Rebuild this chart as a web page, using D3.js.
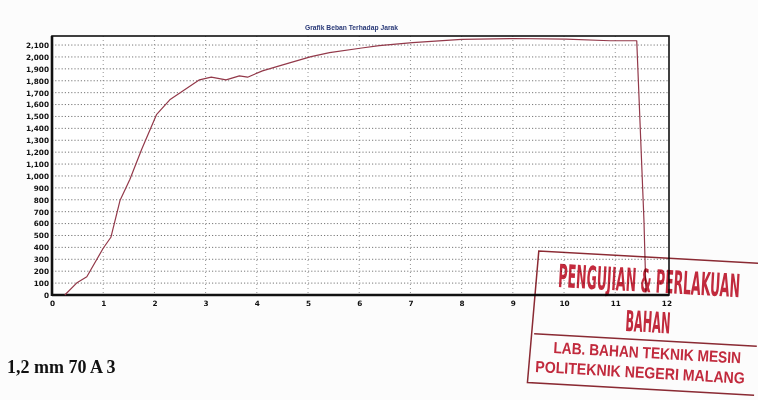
<!DOCTYPE html>
<html>
<head>
<meta charset="utf-8">
<script src="https://cdn.jsdelivr.net/npm/d3@7/dist/d3.min.js"></script>
<style>
  html, body { margin: 0; padding: 0; background: #fcfcfc; }
  svg { display: block; }
</style>
</head>
<body>
<svg id="chart" width="758" height="400"></svg>
<script>
// Load (kgf) against displacement (mm) from the tensile test
const distance = [0.25, 0.48, 0.68, 1.0, 1.15, 1.33, 1.52, 1.75, 2.04, 2.3, 2.59, 2.88, 3.11, 3.4, 3.66, 3.82, 4.11, 4.44, 4.64, 5.06, 5.42, 6.05, 6.39, 7.04, 8.0, 9.0, 10.04, 10.9, 11.42, 11.56, 11.6];
const load     = [0, 100, 153, 393, 485, 797, 970, 1222, 1515, 1640, 1724, 1808, 1830, 1808, 1841, 1830, 1883, 1925, 1950, 2003, 2036, 2075, 2095, 2120, 2148, 2155, 2150, 2136, 2136, 636, 20];
const xTicks = [0, 1, 2, 3, 4, 5, 6, 7, 8, 9, 10, 11, 12];
const yTicks = d3.range(0, 2101, 100);
const chartTitle = "Grafik Beban Terhadap Jarak";
const specimenLabel = "1,2 mm 70 A 3";
const stampLines = ["PENGUJIAN & PERLAKUAN", "BAHAN", "LAB. BAHAN TEKNIK MESIN", "POLITEKNIK NEGERI MALANG"];

const svg = d3.select("#chart");
const plot = { left: 52, right: 669, top: 36, bottom: 295 };

const x = d3.scaleLinear().domain([0, 12.05]).range([plot.left, plot.right]);
const y = d3.scaleLinear().domain([0, 2176]).range([plot.bottom, plot.top]);

// plot background
svg.append("rect").attr("x", plot.left).attr("y", plot.top)
  .attr("width", plot.right - plot.left).attr("height", plot.bottom - plot.top).attr("fill", "#ffffff");

// dotted grid
svg.append("g").selectAll("line").data(yTicks.filter(d => d > 0)).join("line")
  .attr("x1", plot.left).attr("x2", plot.right)
  .attr("y1", d => y(d)).attr("y2", d => y(d))
  .attr("stroke", "#555").attr("stroke-width", 0.8).attr("stroke-dasharray", "1.2,2");
svg.append("g").selectAll("line").data(xTicks.filter(d => d > 0 && d < 12)).join("line")
  .attr("x1", d => x(d)).attr("x2", d => x(d))
  .attr("y1", plot.top).attr("y2", plot.bottom)
  .attr("stroke", "#777").attr("stroke-width", 0.8).attr("stroke-dasharray", "1,3");

// axes
const yAxis = d3.axisLeft(y).tickValues(yTicks).tickFormat(d3.format(",")).tickSize(0).tickPadding(3);
const gy = svg.append("g").attr("transform", `translate(${plot.left},0)`).call(yAxis);
const xAxis = d3.axisBottom(x).tickValues(xTicks).tickFormat(d3.format("d")).tickSize(0).tickPadding(6);
const gx = svg.append("g").attr("transform", `translate(0,${plot.bottom})`).call(xAxis);
[gx, gy].forEach(g => {
  g.select(".domain").remove();
  g.selectAll("text").attr("font-family", "DejaVu Sans").attr("font-weight", "bold")
    .attr("font-size", 7.3).attr("fill", "#111");
});

// frame
svg.append("rect").attr("x", plot.left).attr("y", plot.top)
  .attr("width", plot.right - plot.left).attr("height", plot.bottom - plot.top)
  .attr("fill", "none").attr("stroke", "#111").attr("stroke-width", 1.6);
svg.append("line").attr("x1", plot.left).attr("x2", plot.left).attr("y1", plot.top).attr("y2", plot.bottom + 1)
  .attr("stroke", "#111").attr("stroke-width", 2.6);
svg.append("line").attr("x1", plot.left).attr("x2", plot.right).attr("y1", plot.bottom).attr("y2", plot.bottom)
  .attr("stroke", "#111").attr("stroke-width", 2.6);

// load curve
const pts = distance.map((d, i) => [d, load[i]]);
svg.append("path").datum(pts)
  .attr("fill", "none").attr("stroke", "#93394a").attr("stroke-width", 1.2)
  .attr("stroke-linejoin", "round")
  .attr("d", d3.line().x(d => x(d[0])).y(d => y(d[1])));

// title
svg.append("text").attr("x", 305).attr("y", 30).text(chartTitle)
  .attr("font-family", "Liberation Sans, Arial").attr("font-weight", "bold")
  .attr("font-size", 7).attr("fill", "#2a3a78")
  .attr("textLength", 93).attr("lengthAdjust", "spacingAndGlyphs");

// specimen label
svg.append("text").attr("x", 7).attr("y", 373).text(specimenLabel)
  .attr("font-family", "Liberation Serif, Times New Roman").attr("font-weight", "bold")
  .attr("font-size", 18).attr("fill", "#111");

// laboratory stamp (ink multiplies over the printout)
const stamp = svg.append("g").attr("transform", "translate(645,322) rotate(3.2)")
  .style("mix-blend-mode", "multiply");
const ink = "#c42a3d", edge = "#8c2a33";
stamp.append("path")
  .attr("d", "M113,-65 L-110,-65 L-114,67 L113,67")
  .attr("fill", "none").attr("stroke", edge).attr("stroke-width", 1.5);
stamp.append("line").attr("x1", -110).attr("x2", 113).attr("y1", 18).attr("y2", 18)
  .attr("stroke", edge).attr("stroke-width", 1.5);

// stamp lettering: squeezed horizontally to a set width
function stampText(str, cx, by, width, size, family) {
  const t = stamp.append("text").text(str)
    .attr("font-family", family).attr("font-weight", "bold")
    .attr("font-size", size).attr("fill", ink);
  const natural = t.node().getComputedTextLength();
  const sx = width / natural;
  t.attr("transform", `translate(${cx - width / 2},${by}) scale(${sx},1)`);
}
const condensed = "DejaVu Sans Condensed, DejaVu Sans";
const plain = "Liberation Sans, Arial";
stampText(stampLines[0], 2, -30, 182, 32, condensed);
stampText(stampLines[1], 3, 10, 45, 29, condensed);
stampText(stampLines[2], 4, 36, 188, 16, plain);
stampText(stampLines[3], -2, 56, 210, 16, plain);
</script>
</body>
</html>
